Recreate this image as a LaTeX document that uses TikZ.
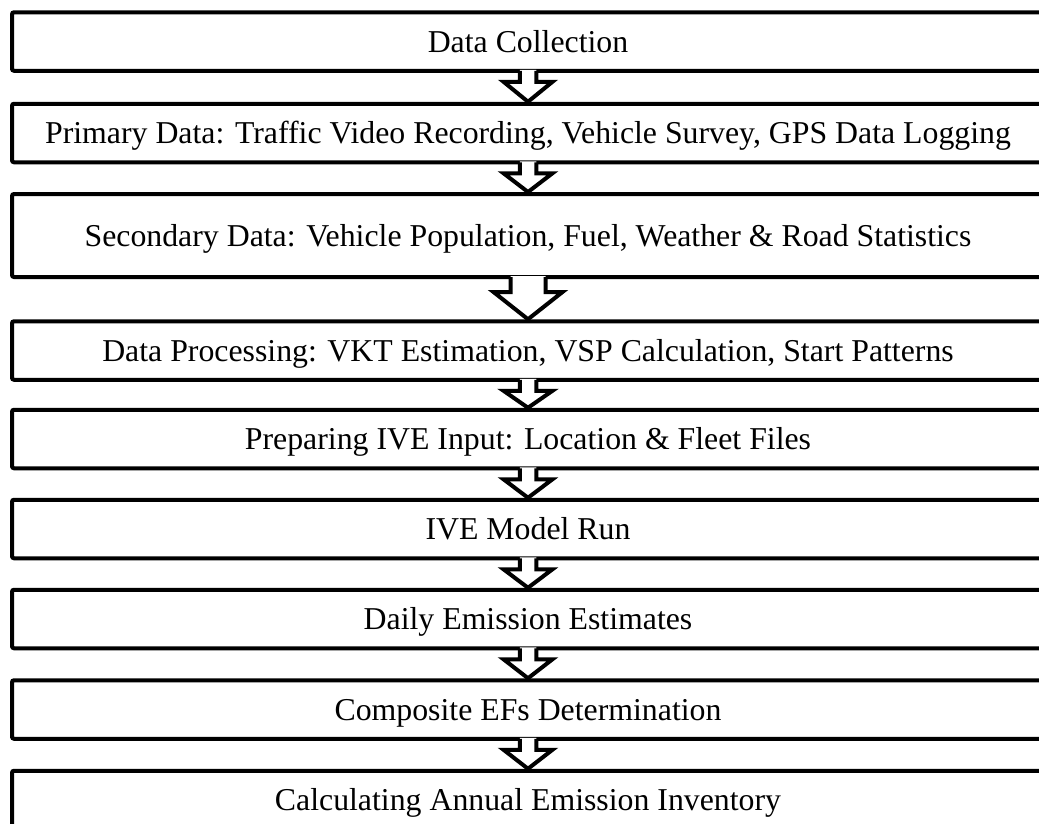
\documentclass[tikz,border=0pt]{standalone}
\usepackage{fontspec}
\setmainfont{Liberation Serif}
\usetikzlibrary{calc}

\tikzset{
  caja/.style={draw, line width=4pt, rounded corners=2pt, inner sep=0pt,
    minimum width=1032pt, minimum height=58.5pt,
    text height=21.6pt, text depth=0pt, font=\fontsize{31.8}{38}\selectfont},
}
% flecha hueca de una caja a la siguiente:
% #1 origen, #2 destino, #3 medio tallo, #4 media punta, #5 largo del tallo
\newcommand{\flecha}[5]{%
  \path (#1.south) coordinate (tallo) (#2.north) coordinate (punta);
  \fill[white] ($(tallo)+(-#3,-3)$) -- ($(tallo)+(-#3,#5)$) -- ($(tallo)+(-#4,#5)$)
    -- (punta) -- ($(tallo)+(#4,#5)$) -- ($(tallo)+(#3,#5)$) -- ($(tallo)+(#3,-3)$) -- cycle;
  \draw[line width=4pt] ($(tallo)+(-#3,-2)$) -- ($(tallo)+(-#3,#5)$) -- ($(tallo)+(-#4,#5)$)
    -- (punta) -- ($(tallo)+(#4,#5)$) -- ($(tallo)+(#3,#5)$) -- ($(tallo)+(#3,-2)$);
}

\begin{document}
\begin{tikzpicture}[x=1pt, y=-1pt]
  \useasboundingbox (0,0) rectangle (1039,823);
  % las cajas, de arriba abajo
  \node[caja] (datos) at (528,41.5) {Data Collection};
  \node[caja] (primarios) at (528,133) {Primary Data: Traffic Video Recording, Vehicle Survey, GPS Data Logging};
  \node[caja, minimum height=83pt] (secundarios) at (528,235.5) {Secondary Data: Vehicle Population, Fuel, Weather \& Road Statistics};
  \node[caja] (proceso) at (528,350.5) {Data Processing: VKT Estimation, VSP Calculation, Start Patterns};
  \node[caja] (entrada) at (528,439) {Preparing IVE Input: Location \& Fleet Files};
  \node[caja] (modelo) at (528,529) {IVE Model Run};
  \node[caja] (diarias) at (528,619) {Daily Emission Estimates};
  \node[caja] (factores) at (528,709.5) {Composite EFs Determination};
  \node[caja] (inventario) at (528,800) {Calculating Annual Emission Inventory};
  % las flechas entre cajas
  \flecha{datos}{primarios}{8.25}{24.5}{9}
  \flecha{primarios}{secundarios}{8.25}{24.5}{9}
  \flecha{secundarios}{proceso}{17.5}{34.5}{13}
  \flecha{proceso}{entrada}{8.25}{24.5}{9}
  \flecha{entrada}{modelo}{8.25}{24.5}{9}
  \flecha{modelo}{diarias}{8.25}{24.5}{9}
  \flecha{diarias}{factores}{8.25}{24.5}{9}
  \flecha{factores}{inventario}{8.25}{24.5}{9}
\end{tikzpicture}
\end{document}
